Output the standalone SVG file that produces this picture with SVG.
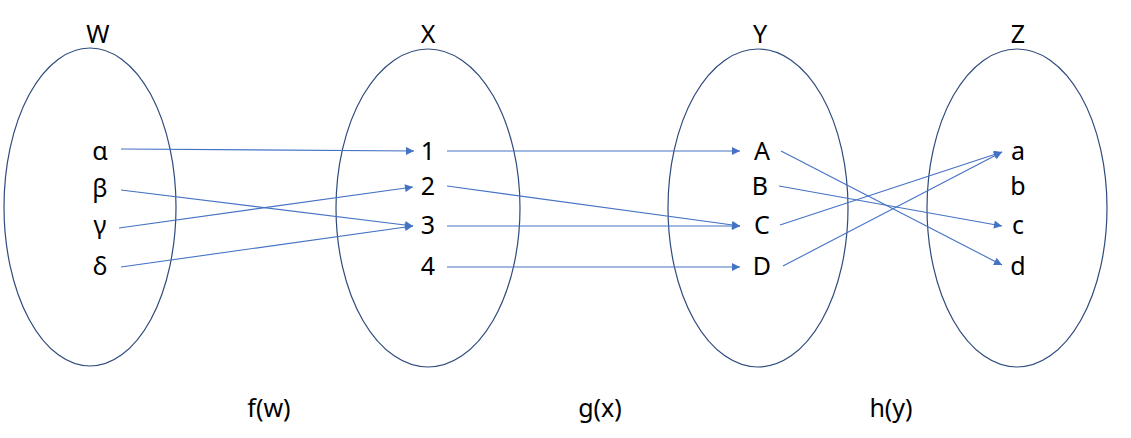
<svg xmlns="http://www.w3.org/2000/svg" width="1131" height="438" viewBox="0 0 1131 438">
<style>
.set{fill:none;stroke:#2F4B7C;stroke-width:1.2}
.t{font-family:"Noto Sans","Noto Sans CJK KR",sans-serif;font-size:25px;fill:#000;text-anchor:middle}
.c{fill:none;stroke:#4472C4;stroke-width:1.1;marker-end:url(#ah)}
</style>
<defs>
<marker id="ah" viewBox="0 0 10 10" refX="10" refY="5" markerWidth="10" markerHeight="8" markerUnits="userSpaceOnUse" orient="auto">
<path d="M0,0 L10,5 L0,10 z" fill="#4472C4"/>
</marker>
</defs>
<rect width="1131" height="438" fill="#fff"/>
<g id="set-W">
<ellipse class="set" cx="90" cy="207" rx="86" ry="159"/>
<text class="t" x="98" y="43">W</text>
<text class="t" x="100" y="160">α</text>
<text class="t" x="100" y="197">β</text>
<text class="t" x="100" y="234">γ</text>
<text class="t" x="100" y="275">δ</text>
</g>
<g id="set-X">
<ellipse class="set" cx="428" cy="208" rx="92" ry="159"/>
<text class="t" x="428" y="43">X</text>
<text class="t" x="428" y="160">1</text>
<text class="t" x="428" y="195">2</text>
<text class="t" x="428" y="234">3</text>
<text class="t" x="428" y="275">4</text>
</g>
<g id="set-Y">
<ellipse class="set" cx="758" cy="208" rx="90" ry="159"/>
<text class="t" x="760" y="43">Y</text>
<text class="t" x="762" y="160">A</text>
<text class="t" x="760" y="195">B</text>
<text class="t" x="762" y="234">C</text>
<text class="t" x="762" y="275">D</text>
</g>
<g id="set-Z">
<ellipse class="set" cx="1017" cy="208" rx="90" ry="159"/>
<text class="t" x="1018" y="43">Z</text>
<text class="t" x="1018" y="160">a</text>
<text class="t" x="1018" y="195">b</text>
<text class="t" x="1018" y="234">c</text>
<text class="t" x="1018" y="275">d</text>
</g>
<g id="labels">
<text class="t" x="269" y="417">f(w)</text>
<text class="t" x="600" y="417">g(x)</text>
<text class="t" x="891" y="417">h(y)</text>
</g>
<g id="connectors">
<line class="c" x1="121" y1="149" x2="414" y2="151"/>
<line class="c" x1="121" y1="190" x2="413" y2="226"/>
<line class="c" x1="119" y1="228" x2="413" y2="187"/>
<line class="c" x1="121" y1="267" x2="413" y2="226"/>
<line class="c" x1="447" y1="151" x2="740" y2="151"/>
<line class="c" x1="447" y1="186" x2="740" y2="226"/>
<line class="c" x1="447" y1="226" x2="740" y2="226"/>
<line class="c" x1="447" y1="267" x2="740" y2="267"/>
<line class="c" x1="781" y1="151" x2="1002" y2="265"/>
<line class="c" x1="779" y1="186" x2="1002" y2="226"/>
<line class="c" x1="780" y1="225" x2="1002" y2="152"/>
<line class="c" x1="783" y1="266" x2="1002" y2="152"/>
</g>
</svg>
